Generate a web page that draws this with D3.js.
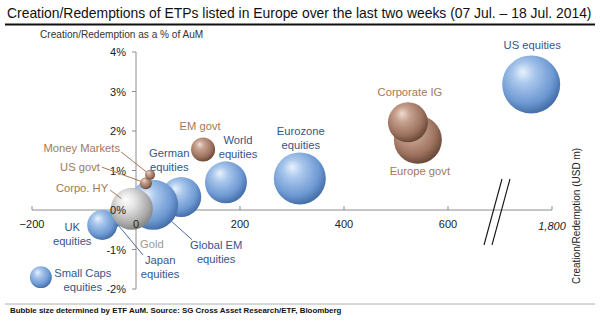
<!DOCTYPE html>
<html>
<head>
<meta charset="utf-8">
<script src="https://cdn.jsdelivr.net/npm/d3@7/dist/d3.min.js"></script>
<style>
  body { margin: 0; background: #fff; }
  svg { display: block; font-family: "Liberation Sans", Arial, sans-serif; }
</style>
</head>
<body>
<svg id="chart" width="600" height="331"></svg>
<script>
// ETP flows, 07 Jul - 18 Jul 2014
// listed in drawing order (back to front)
var names   = ['US equities', 'Eurozone equities', 'World equities', 'EM govt', 'Europe govt', 'Corporate IG',
               'German equities', 'Global EM equities', 'Japan equities', 'Corpo. HY', 'UK equities', 'Gold',
               'US govt', 'Money Markets', 'Small Caps equities'];
var flows   = [1760, 315, 173, 129, 542, 523, 87, 33, -44, -19, -65, -8, 19, 27, -183];      // USD m
var pctAum  = [3.18, 0.80, 0.70, 1.53, 1.78, 2.22, 0.33, 0.13, -0.23, 0.20, -0.38, 0.03, 0.68, 0.89, -1.70];
var aum     = [42, 33.8, 22, 7.2, 28.8, 20, 20, 31.2, 4, 1.8, 11.2, 22, 1.8, 1.25, 6];       // USD bn
var groups  = ['eq', 'eq', 'eq', 'fi', 'fi', 'fi', 'eq', 'eq', 'eq', 'fi', 'eq', 'gold', 'fi', 'fi', 'eq'];

var xTicks = [-200, 0, 200, 400, 600];
var xBreakTick = 1800;
var yTicks = [-2, -1, 0, 1, 2, 3, 4];

// label layout: text lines + offset from bubble centre (px), optional leader line
var labelPos = {
    'US equities':        {lines: ['US equities'], dx: 1, dy: -39},
    'Corporate IG':       {lines: ['Corporate IG'], dx: 2, dy: -30},
    'Europe govt':        {lines: ['Europe govt'], dx: 2, dy: 31},
    'Eurozone equities':  {lines: ['Eurozone', 'equities'], dx: 1, dy: -47},
    'World equities':     {lines: ['World', 'equities'], dx: 12, dy: -42},
    'EM govt':            {lines: ['EM govt'], dx: -3, dy: -24},
    'German equities':    {lines: ['German', 'equities'], dx: -12, dy: -44},
    'Global EM equities': {lines: ['Global EM', 'equities'], dx: 63, dy: 40, leader: [39, 35]},
    'Japan equities':     {lines: ['Japan', 'equities'], dx: 47, dy: 41, leader: [30, 36]},
    'Corpo. HY':          {lines: ['Corpo. HY'], dx: -18, dy: -14, anchor: 'end', leader: [-16, -12]},
    'UK equities':        {lines: ['UK', 'equities'], dx: -30, dy: 2},
    'Gold':               {lines: ['Gold'], dx: 20, dy: 35},
    'US govt':            {lines: ['US govt'], dx: -46, dy: -16, anchor: 'end', leader: [-44, -16]},
    'Money Markets':      {lines: ['Money Markets'], dx: -30, dy: -27, anchor: 'end', leader: [-29, -23]},
    'Small Caps equities':{lines: ['Small Caps', 'equities'], dx: 42, dy: -4}
};

var textColor = {eq: '#34568b', fi: '#a47858', gold: '#9a9a9a'};
var lineColor = {eq: '#4a6c9c', fi: '#a47858', gold: '#9a9a9a'};

var svg = d3.select('#chart');
var plot = {left: 32, right: 552, top: 52, bottom: 289};

// x axis is broken between 750 and 1750
var x = d3.scaleLinear()
    .domain([-200, 750, 1750, 1800])
    .range([plot.left, plot.left + 950 * 0.52, plot.left + 950 * 0.52, plot.right]);
var y = d3.scaleLinear().domain([-2, 4]).range([plot.bottom, plot.top]);
var r = d3.scaleSqrt().domain([0, 42]).range([0, 29]);

// gradients
var defs = svg.append('defs');
var grads = {
    eq:   [['0%', '#e8f1fc'], ['30%', '#a9c7ec'], ['75%', '#6f9ad3'], ['100%', '#4670aa']],
    fi:   [['0%', '#efdcd1'], ['30%', '#c7a290'], ['75%', '#9c725e'], ['100%', '#6b4939']],
    gold: [['0%', '#ffffff'], ['35%', '#e2e2e2'], ['80%', '#a9a9a9'], ['100%', '#868686']]
};
Object.keys(grads).forEach(function(k) {
    var g = defs.append('radialGradient').attr('id', 'g-' + k)
        .attr('cx', '42%').attr('cy', '38%').attr('r', '62%')
        .attr('fx', '35%').attr('fy', '28%');
    grads[k].forEach(function(s) {
        g.append('stop').attr('offset', s[0]).attr('stop-color', s[1]);
    });
});

// title
svg.append('text').attr('x', 7).attr('y', 18)
    .attr('font-size', 13.9).attr('fill', '#111')
    .text('Creation/Redemptions of ETPs listed in Europe over the last two weeks (07 Jul. \u2013 18 Jul. 2014)');
svg.append('line').attr('x1', 5).attr('x2', 595).attr('y1', 24.5).attr('y2', 24.5)
    .attr('stroke', '#111').attr('stroke-width', 2.2);

svg.append('text').attr('x', 40).attr('y', 38)
    .attr('font-size', 10.1).attr('fill', '#333')
    .text('Creation/Redemption as a % of AuM');

svg.append('text')
    .attr('transform', 'translate(580,216) rotate(-90)')
    .attr('text-anchor', 'middle').attr('font-size', 10).attr('fill', '#222')
    .text('Creation/Redemption (USD m)');

// axes
var axisColor = '#8c8c8c';
var axes = svg.append('g');
axes.append('line')
    .attr('x1', plot.left).attr('x2', plot.right)
    .attr('y1', y(0)).attr('y2', y(0))
    .attr('stroke', axisColor);
axes.append('line')
    .attr('x1', x(0)).attr('x2', x(0))
    .attr('y1', plot.top).attr('y2', plot.bottom)
    .attr('stroke', axisColor);

axes.selectAll('.xt').data(xTicks.concat([xBreakTick])).enter().append('line')
    .attr('x1', function(d) { return x(d); }).attr('x2', function(d) { return x(d); })
    .attr('y1', y(0) - 4).attr('y2', y(0))
    .attr('stroke', axisColor);
axes.selectAll('.yt').data(yTicks).enter().append('line')
    .attr('x1', x(0) - 4).attr('x2', x(0))
    .attr('y1', function(d) { return y(d); }).attr('y2', function(d) { return y(d); })
    .attr('stroke', axisColor);

// break marks
var bx = x(700);
[-4, 4].forEach(function(o) {
    axes.append('line')
        .attr('x1', bx + o - 12).attr('y1', y(0) + 35)
        .attr('x2', bx + o + 6).attr('y2', y(0) - 31)
        .attr('stroke', '#111').attr('stroke-width', 1.1);
});

// bubbles
var idx = d3.range(names.length);
svg.append('g').selectAll('circle').data(idx).enter().append('circle')
    .attr('cx', function(i) { return x(flows[i]); })
    .attr('cy', function(i) { return y(pctAum[i]); })
    .attr('r', function(i) { return r(aum[i]); })
    .attr('fill', function(i) { return 'url(#g-' + groups[i] + ')'; });

// tick labels (drawn over bubbles, as in the original)
var tl = svg.append('g').attr('font-size', 11).attr('fill', '#222');
tl.selectAll('.xl').data(xTicks).enter().append('text')
    .attr('x', function(d) { return x(d); }).attr('y', y(0) + 18)
    .attr('text-anchor', 'middle')
    .text(function(d) { return d3.format(',')(d); });
tl.append('text').attr('x', x(xBreakTick)).attr('y', y(0) + 20)
    .attr('text-anchor', 'middle').attr('font-style', 'italic')
    .text(d3.format(',')(xBreakTick));
tl.selectAll('.yl').data(yTicks).enter().append('text')
    .attr('x', x(0) - 10).attr('y', function(d) { return y(d) + 4; })
    .attr('text-anchor', 'end')
    .text(function(d) { return d + '%'; });

// labels and leaders
var lab = svg.append('g').attr('font-size', 11.2);
idx.forEach(function(i) {
    var p = labelPos[names[i]];
    var cx = x(flows[i]), cy = y(pctAum[i]), rad = r(aum[i]);
    if (p.leader) {
        var sx = cx + p.leader[0], sy = cy + p.leader[1];
        var len = Math.sqrt(p.leader[0] * p.leader[0] + p.leader[1] * p.leader[1]);
        lab.append('line')
            .attr('x1', sx).attr('y1', sy)
            .attr('x2', cx + rad * p.leader[0] / len).attr('y2', cy + rad * p.leader[1] / len)
            .attr('stroke', lineColor[groups[i]]).attr('stroke-width', 1);
    }
    var t = lab.append('text')
        .attr('text-anchor', p.anchor || 'middle')
        .attr('fill', textColor[groups[i]]);
    p.lines.forEach(function(s, k) {
        t.append('tspan').attr('x', cx + p.dx).attr('y', cy + p.dy + 4 + k * 14).text(s);
    });
});

// footer
svg.append('line').attr('x1', 5).attr('x2', 595).attr('y1', 304).attr('y2', 304)
    .attr('stroke', '#999').attr('stroke-width', 0.8);
svg.append('text').attr('x', 10).attr('y', 313)
    .attr('font-size', 7.9).attr('font-weight', 'bold').attr('fill', '#111')
    .text('Bubble size determined by ETF AuM. Source: SG Cross Asset Research/ETF, Bloomberg');
</script>
</body>
</html>
